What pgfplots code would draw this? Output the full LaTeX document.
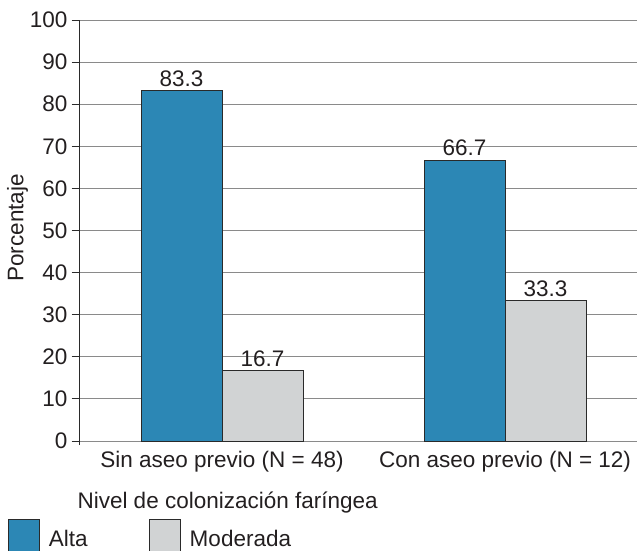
\documentclass[border=0pt]{standalone}
\usepackage{pgfplots}
\pgfplotsset{compat=1.18}
\usepackage{fontspec}
\setmainfont{Liberation Sans}
\definecolor{altablue}{HTML}{2C87B5}
\definecolor{modgray}{HTML}{D1D3D4}
\definecolor{gridgray}{HTML}{8A8A8A}
\definecolor{edge}{HTML}{2A2A2A}
\definecolor{txt}{HTML}{231F20}
\newcommand{\cf}{\fontsize{22.5}{27}\selectfont}
\pgfplotsset{boxlegend/.style={legend image code/.code={\draw[##1] (0pt,-12pt) rectangle (31pt,20pt); \path (0pt,-20pt) -- (0pt,-20pt);}}}
\begin{document}
\begin{tikzpicture}
\begin{axis}[
  at={(0,0)}, anchor=south west,
  scale only axis, width=557pt, height=421pt,
  xmin=-0.5018, xmax=1.4664, ymin=0, ymax=100,
  ybar=0pt, bar width=0.2862,
  xtick={0,1},
  xticklabels={Sin aseo previo (N = 48), Con aseo previo (N = 12)},
  ytick={0,10,...,100},
  axis y line*=left, axis x line*=bottom,
  x axis line style={draw=none},
  y axis line style={draw=edge, line width=1pt, shorten <=-4pt},
  xtick style={draw=none},
  ytick style={draw=edge, line width=1pt},
  tick align=outside, major tick length=8.3pt,
  ymajorgrids, grid style={gridgray, line width=1pt},
  /pgf/number format/assume math mode=true,
  yticklabel style={font=\cf, text=txt, inner sep=0pt, anchor=east, xshift=-4pt},
  xticklabel style={font=\cf, text=txt, inner sep=0pt, anchor=north, yshift=-2pt},
  xlabel={Nivel de colonización faríngea},
  ylabel={Porcentaje},
  every axis x label/.style={at={(axis description cs:-0.0108,-0.160)}, anchor=base west, font=\cf, text=txt},
  every axis y label/.style={at={(axis description cs:-0.1015,0.506)}, rotate=90, anchor=base, font=\cf, text=txt},
  point meta=explicit symbolic,
  nodes near coords,
  every node near coord/.append style={font=\cf, text=txt, anchor=south, inner sep=0pt, yshift=3.5pt},
  legend columns=2,
  legend style={at={(axis description cs:-0.1293,-0.1845)}, anchor=north west, draw=none, fill=none,
    inner sep=0pt, outer sep=0pt, font=\cf, text=txt, nodes={inner sep=0pt},
    /tikz/every odd column/.append style={column sep=9pt},
    /tikz/every even column/.append style={column sep=61pt}},
]
\addplot[fill=altablue, draw=edge, line width=1pt, boxlegend]
  coordinates {(0,83.3)[83.3] (1,66.7)[66.7]};
\addplot[fill=modgray, draw=edge, line width=1pt, boxlegend]
  coordinates {(0,16.7)[16.7] (1,33.3)[33.3]};
\legend{Alta, Moderada}
\end{axis}
\pgfresetboundingbox
\path (-80pt,-109pt) rectangle (557pt,441pt);
\end{tikzpicture}
\end{document}
